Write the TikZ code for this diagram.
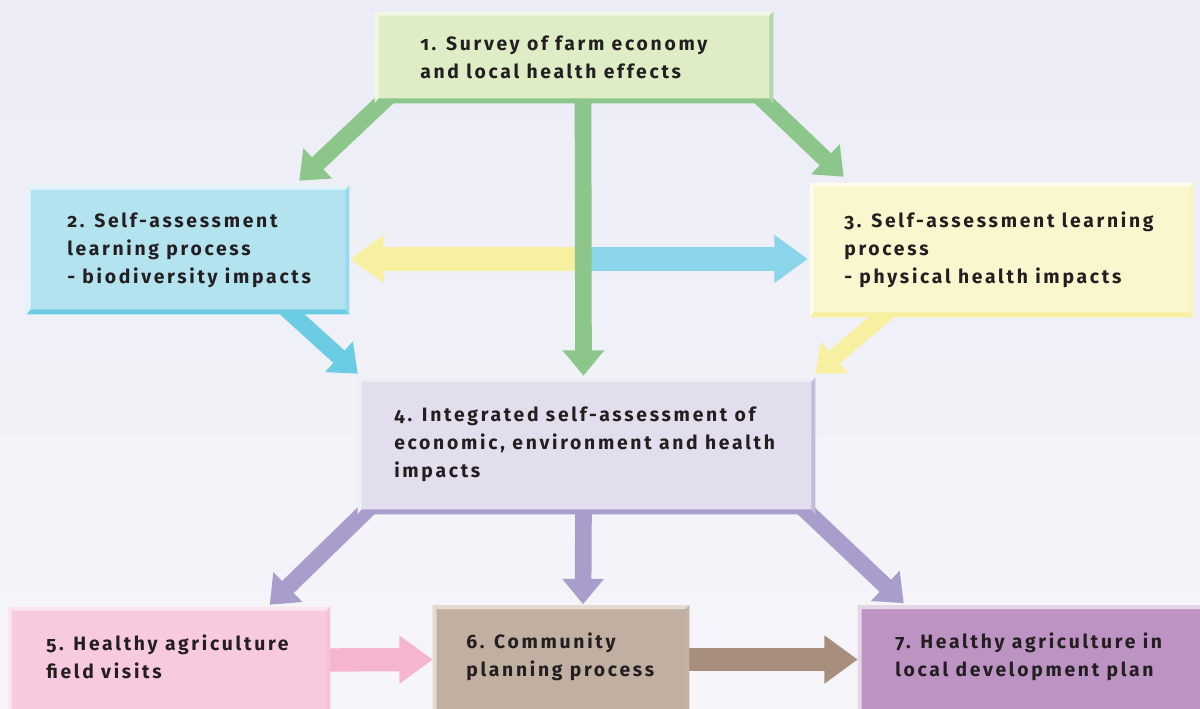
\documentclass[tikz,border=0pt]{standalone}
\usepackage{fontspec}
\setmainfont{Fira Sans}[Numbers=OldStyle]
\usetikzlibrary{arrows.meta,calc}
\definecolor{bgtop}{HTML}{ECECF6}
\definecolor{bgbot}{HTML}{F5F5FA}
\definecolor{txt}{HTML}{231F20}
\definecolor{gfill}{HTML}{DFEDC7}\definecolor{gdark}{HTML}{8CC68A}\definecolor{glight}{HTML}{F0F8E4}
\definecolor{bfill}{HTML}{B4E3F0}\definecolor{bdark}{HTML}{6CCCE4}\definecolor{blight}{HTML}{E4F5FA}\definecolor{barrow}{HTML}{8AD5EA}
\definecolor{yfill}{HTML}{FAF7CF}\definecolor{ydark}{HTML}{F6F0A0}\definecolor{ylight}{HTML}{FDFCEE}
\definecolor{pfill}{HTML}{E2DEEE}\definecolor{pdark}{HTML}{A99ECB}\definecolor{plight}{HTML}{F0EEF7}
\definecolor{kfill}{HTML}{F8CADF}\definecolor{kdark}{HTML}{F4A7C7}\definecolor{klight}{HTML}{FCE6F0}\definecolor{karrow}{HTML}{F5B5D0}
\definecolor{nfill}{HTML}{C1AFA1}\definecolor{ndark}{HTML}{A99280}\definecolor{nlight}{HTML}{E3DAD2}\definecolor{narrow}{HTML}{A88F7D}
\definecolor{vfill}{HTML}{BC93C3}\definecolor{vdark}{HTML}{A97BB2}\definecolor{vlight}{HTML}{E5D5E8}
\tikzset{
  panel/.style={rectangle, inner sep=0pt, draw=none},
  label/.style={inner sep=0pt, align=left, anchor=west, text=txt, font=\fontsize{14.5pt}{21pt}\selectfont\addfontfeatures{LetterSpace=14}\bfseries},
  thin arrow/.style={line width=12.5pt, -{Triangle[width=30pt,length=19pt]}},
  fat arrow/.style={line width=17.5pt, -{Triangle[width=34.5pt,length=25pt]}},
}
\newcommand\bevel[3]{%
  \fill[#3] (#1.north west) -- (#1.north east) -- ($(#1.north east)+(-4,4)$) -- ($(#1.north west)+(4,4)$) -- cycle;
  \fill[#3] (#1.north west) -- ($(#1.north west)+(4,4)$) -- ($(#1.south west)+(4,-5)$) -- (#1.south west) -- cycle;
  \fill[#2] (#1.south west) -- (#1.south east) -- ($(#1.south east)+(-4,-5)$) -- ($(#1.south west)+(4,-5)$) -- cycle;
  \fill[#2!70] (#1.north east) -- (#1.south east) -- ($(#1.south east)+(-4,-5)$) -- ($(#1.north east)+(-4,4)$) -- cycle;
}
\begin{document}
\begin{tikzpicture}[x=0.75pt,y=-0.75pt]
\useasboundingbox (0,0) rectangle (1200,709);
\shade[top color=bgtop, bottom color=bgbot] (0,0) rectangle (1200,709);
% boxes (positions)
\path
  (574,57.5)   node[panel, minimum width=298.5pt, minimum height=68.25pt] (b1) {}
  (188,250)    node[panel, minimum width=241.5pt, minimum height=96pt] (b2) {}
  (1001.5,250) node[panel, minimum width=287.25pt, minimum height=100.5pt] (b3) {}
  (586.5,446)  node[panel, minimum width=342.75pt, minimum height=102pt] (b4) {}
  (169,661)    node[panel, minimum width=241.5pt, minimum height=81pt] (b5) {}
  (561,660.5)  node[panel, minimum width=192pt, minimum height=82.5pt] (b6) {}
  (1031.5,660.5) node[panel, minimum width=260.25pt, minimum height=82.5pt] (b7) {};
% horizontal double arrow
\coordinate (mid) at (583,259);
\draw[fat arrow, line width=18pt, draw=ydark, fill=ydark] (mid) -- ([shift={(1,9)}]b2.east);
\draw[fat arrow, line width=18pt, draw=barrow, fill=barrow] (mid) -- ([shift={(-2,9)}]b3.west);
% green arrows
\draw[thin arrow, gdark] ([shift={(15,-8)}]b1.south west) -- ([shift={(-50,-5)}]b2.north east);
\draw[thin arrow, gdark] ([shift={(-15,-8)}]b1.south east) -- ([shift={(34,-6)}]b3.north west);
\draw[thin arrow, gdark] ([shift={(9,-8)}]b1.south) -- ([shift={(-3,-2)}]b4.north);
% blue and yellow diagonals
\draw[thin arrow, bdark] ([shift={(-67,-9)}]b2.south east) -- ([shift={(0,-4)}]b4.north west);
\draw[thin arrow, ydark] ([shift={(82,-9)}]b3.south west) -- ([shift={(0,-4)}]b4.north east);
% purple arrows
\draw[thin arrow, pdark] ([shift={(14,-9)}]b4.south west) -- ([shift={(262,-2)}]b5.north west);
\draw[thin arrow, pdark] ([shift={(-3,-9)}]b4.south) -- ([shift={(22,-1)}]b6.north);
\draw[thin arrow, pdark] ([shift={(-15,-9)}]b4.south east) -- ([shift={(46,-2)}]b7.north west);
% bottom arrows
\draw[fat arrow, karrow] ([shift={(-10,-1)}]b5.east) -- ([shift={(0,-1)}]b6.west);
\draw[fat arrow, narrow] ([shift={(-10,-1)}]b6.east) -- ([shift={(0,-1)}]b7.west);
% box fills
\fill[gfill] (b1.north west) rectangle (b1.south east); \bevel{b1}{gdark}{glight}
\fill[bfill] (b2.north west) rectangle (b2.south east); \bevel{b2}{bdark}{blight}
\fill[yfill] (b3.north west) rectangle (b3.south east); \bevel{b3}{ydark}{ylight}
\fill[pfill] (b4.north west) rectangle (b4.south east); \bevel{b4}{pdark}{plight}
\fill[kfill] (b5.north west) rectangle (b5.south east); \bevel{b5}{kdark}{klight}
\fill[nfill] (b6.north west) rectangle (b6.south east); \bevel{b6}{ndark}{nlight}
\fill[vfill] (b7.north west) rectangle (b7.south east); \bevel{b7}{vdark}{vlight}
% texts
\node[label] (t1) at (420,57) {1. Survey of farm economy\\and local health effects};
\node[label] (t2) at (67,250) {2. Self-assessment\\learning process\\- biodiversity impacts};
\node[label] (t3) at (844,250) {3. Self-assessment learning\\process\\- physical health impacts};
\node[label] (t4) at (394,444) {4. Integrated self-assessment of\\economic, environment and health\\impacts};
\node[label] (t5) at (46,657) {5. Healthy agriculture\\field visits};
\node[label] (t6) at (466,657) {6. Community\\planning process};
\node[label] (t7) at (895,657) {7. Healthy agriculture in\\local development plan};
\end{tikzpicture}
\end{document}
